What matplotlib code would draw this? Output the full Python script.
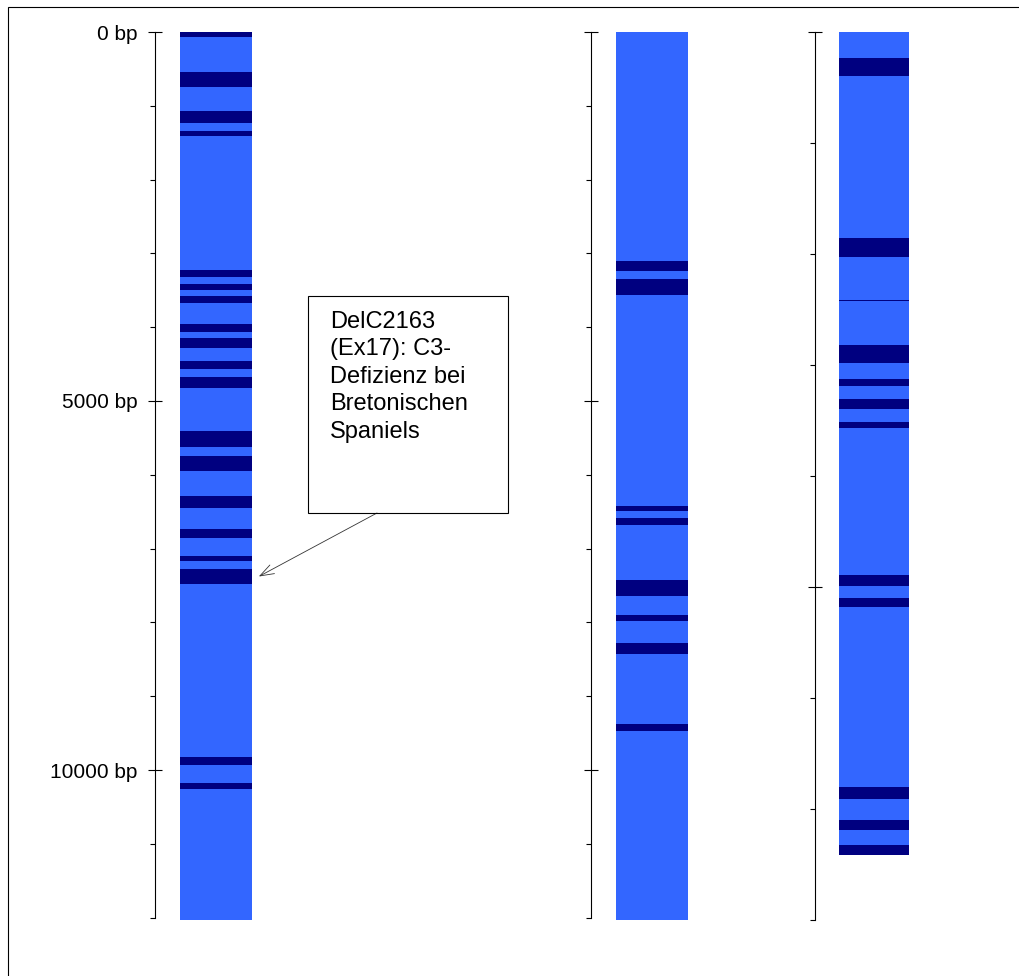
import matplotlib
matplotlib.use("Agg")
import matplotlib.pyplot as plt
from matplotlib.patches import Rectangle
from matplotlib.ticker import FixedLocator, FuncFormatter

plt.rcParams['font.family'] = ['Liberation Sans', 'DejaVu Sans']

# exon coordinates (bp), one list pair per gene
gene1_length = 12030
gene1_exon_start = [0, 542, 1070, 1341, 3225, 3415, 3577, 3957, 4146, 4458,
                    4675, 5407, 5745, 6287, 6734, 7100, 7276, 9824, 10176]
gene1_exon_end = [70, 745, 1233, 1409, 3320, 3496, 3672, 4065, 4282, 4566,
                  4824, 5623, 5949, 6450, 6856, 7168, 7480, 9932, 10257]

gene2_length = 12030
gene2_exon_start = [3103, 3347, 6423, 6585, 7425, 7900, 8279, 9377]
gene2_exon_end = [3238, 3564, 6491, 6680, 7642, 7981, 8428, 9472]

gene3_length = 7412
gene3_exon_start = [234, 1858, 2417, 2822, 3129, 3309, 3517, 4896, 5095,
                    6799, 7097, 7322]
gene3_exon_end = [397, 2029, 2426, 2985, 3192, 3400, 3571, 4987, 5176,
                  6907, 7187, 7412]

axis_ends = [12000, 12000, 8000]
major_ticks = [[0, 5000, 10000], [0, 5000, 10000], [0, 5000]]

annot_text = "DelC2163\n(Ex17): C3-\nDefizienz bei\nBretonischen\nSpaniels"
annot_exon = 16  # index of exon 17 in gene 1

INTRON = "#3366ff"
EXON = "#000080"

W, H = 1020, 976
fig = plt.figure(figsize=(W / 100, H / 100), dpi=100)

# outer frame (only top and left edges fall inside the picture)
fig.add_artist(Rectangle((8 / W, -0.1), 1.2, (H - 7) / H + 0.1,
                         transform=fig.transFigure, fill=False,
                         edgecolor="black", linewidth=0.8))

top_px, ax_h = 32, 893
lefts = [154.7, 590.7, 814.7]
widths = [97.3, 97.3, 94.3]
px_per_5000 = [369, 369, 555]

genes = [
    (gene1_length, gene1_exon_start, gene1_exon_end),
    (gene2_length, gene2_exon_start, gene2_exon_end),
    (gene3_length, gene3_exon_start, gene3_exon_end),
]

axes = []
for i, (length, starts, ends) in enumerate(genes):
    ax = fig.add_axes([lefts[i] / W, (H - top_px - ax_h) / H, widths[i] / W, ax_h / H])
    ax.patch.set_alpha(0)
    ax.set_xlim(0, 1)
    ax.set_ylim(ax_h * 5000 / px_per_5000[i], 0)

    bar_x, bar_w = 0.26, 0.74
    ax.bar(bar_x, length, bottom=0, width=bar_w, align="edge",
           color=INTRON, linewidth=0)
    heights = [e - s for s, e in zip(starts, ends)]
    ax.bar([bar_x] * len(starts), heights, bottom=starts, width=bar_w,
           align="edge", color=EXON, linewidth=0)

    for side in ["top", "right", "bottom"]:
        ax.spines[side].set_visible(False)
    ax.spines["left"].set_bounds(0, axis_ends[i])
    ax.spines["left"].set_linewidth(0.8)
    ax.set_xticks([])

    ax.yaxis.set_major_locator(FixedLocator(major_ticks[i]))
    minors = [v for v in range(0, axis_ends[i] + 1, 1000) if v not in major_ticks[i]]
    ax.yaxis.set_minor_locator(FixedLocator(minors))
    ax.tick_params(axis="y", which="major", direction="inout", length=10,
                   width=0.8, pad=7.5, labelsize=15)
    ax.tick_params(axis="y", which="minor", direction="out", length=3.6,
                   width=0.8)
    if i == 0:
        ax.yaxis.set_major_formatter(FuncFormatter(lambda v, p: f"{int(v)} bp"))
    else:
        ax.set_yticklabels([])
    axes.append(ax)

# callout box with arrow to exon 17
fig.add_artist(Rectangle((308.5 / W, (H - 513) / H), 200 / W, 217.5 / H,
                         transform=fig.transFigure, fill=False,
                         edgecolor="black", linewidth=0.8))
fig.text(330 / W, (H - 311) / H, annot_text, fontsize=17, va="top", ha="left",
         linespacing=1.32)

ex_mid = (gene1_exon_start[annot_exon] + gene1_exon_end[annot_exon]) / 2
axes[0].annotate("", xy=(1.07, ex_mid), xycoords=("axes fraction", "data"),
                 xytext=(377, H - 513), textcoords="figure pixels",
                 arrowprops=dict(arrowstyle="->,head_length=1.0,head_width=0.35",
                                 mutation_scale=10, color="#333333",
                                 linewidth=0.6, shrinkA=0, shrinkB=0))

fig.savefig("out.png", dpi=100)
